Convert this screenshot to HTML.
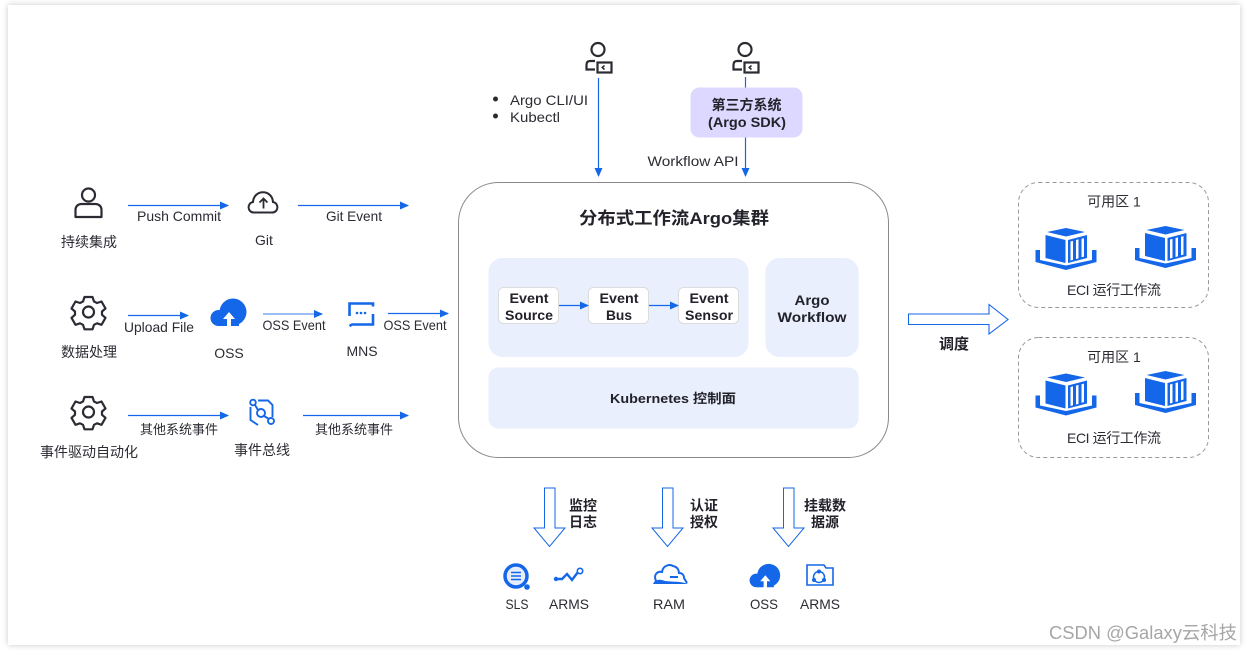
<!DOCTYPE html>
<html><head><meta charset="utf-8"><style>
html,body{margin:0;padding:0;background:#fff;width:1253px;height:652px;overflow:hidden}
#card{position:absolute;left:8px;top:5px;width:1232px;height:640px;background:#fff;box-shadow:0 0 6px rgba(0,0,0,.22)}
svg{display:block;position:absolute;left:0;top:0}
text{font-family:"Liberation Sans","Noto Sans CJK SC",sans-serif;font-size:14px;fill:#2b2b33;text-anchor:middle}
.b{font-weight:700;fill:#22222a}
.w{fill:#a6a6a6;font-size:18px}
</style></head><body>
<div id="card"></div>
<svg width="1253" height="652" viewBox="0 0 1253 652" xmlns="http://www.w3.org/2000/svg">
<defs>
<marker id="a" markerWidth="9" markerHeight="8" refX="8" refY="4" orient="auto" markerUnits="userSpaceOnUse"><path d="M0 0L9 4L0 8z" fill="#1467e8"/></marker>
<g id="gear"><path d="M-4-15h8l1.500 4.500 3 1.500 4.500-1.500 4 7-3.500 3v3.300l3.500 3-4 7-4.500-1.500-3 1.500-1.500 4.500h-8l-1.500-4.500-3-1.500-4.500 1.500-4-7 3.500-3v-3.300l-3.500-3 4-7 4.500 1.500 3-1.500z" fill="none" stroke="#2b2b33" stroke-width="2.200" stroke-linejoin="round"/><circle r="5.500" fill="none" stroke="#2b2b33" stroke-width="2.200"/></g>
<g id="user" fill="none" stroke="#2b2b33" stroke-width="2.200"><circle cx="0" cy="-6.500" r="6.500"/><path d="M-3 5H-8Q-11.500 5-11.500 9V13.500H-3"/><rect x="-0.500" y="6.500" width="14" height="10"/><path d="M6.500 9.500L4.200 11.500l2.300 2" stroke-width="1.500"/></g>
<g id="box"><path d="M-30.500 22H-26V32L0 37.500 26 32V22H30.500V34L0 42-30.500 34z" fill="#1467e8"/><path d="M-19 4L0 0 19 4 0 8.500z" fill="#1467e8"/><path d="M-20.500 7L-.5 12V35L-20.500 30z" fill="#1467e8"/><path d="M2 12L21 7V30L2 35z" fill="#1467e8"/><path d="M4.500 13.500l2.500-.6v19l-2.500.6zM10 12l2.500-.6v19l-2.500.6zM15.500 10.700l2.500-.6v18.500l-2.500.6z" fill="#fff"/></g>
<g id="oss"><circle cx="4" cy="-2" r="13.500" fill="#1467e8"/><circle cx="-10.500" cy="4" r="8" fill="#1467e8"/><path d="M-10 12H10V3H-10z" fill="#1467e8"/><path d="M-2 12.500V5h-4L0-2 6 5H2v7.500z" fill="#fff"/></g>
</defs>

<!-- top users -->
<use href="#user" x="598" y="56"/>
<use href="#user" x="745" y="56"/>
<g stroke="#1467e8" stroke-width="1.200" fill="none">
<path d="M598.500 78V176" marker-end="url(#a)"/>
<path d="M745.500 77V88"/>
<path d="M745.500 137V176" marker-end="url(#a)"/>
<path d="M128 205.500H228" marker-end="url(#a)"/>
<path d="M298 205.500H408" marker-end="url(#a)"/>
<path d="M128 315.500H188" marker-end="url(#a)"/>
<path d="M263 314H322" stroke="#7aa9f0" stroke-width="1.600" marker-end="url(#a)"/>
<path d="M388 313.500H448" marker-end="url(#a)"/>
<path d="M128 415.500H228" marker-end="url(#a)"/>
<path d="M303 415.500H408" marker-end="url(#a)"/>
</g>

<circle cx="495.500" cy="99" r="2.500" fill="#2b2b33"/>
<circle cx="495.500" cy="116" r="2.500" fill="#2b2b33"/>
<text x="549" y="105" textLength="78" lengthAdjust="spacingAndGlyphs">Argo CLI/UI</text>
<text x="535" y="122" textLength="50" lengthAdjust="spacingAndGlyphs">Kubectl</text>
<rect x="690.500" y="87.500" width="112" height="50" rx="9" fill="#dcd8ff"/>
<text class="b" x="746.500" y="110">第三方系统</text>
<text class="b" x="747" y="127" textLength="78" lengthAdjust="spacingAndGlyphs">(Argo SDK)</text>
<text x="693" y="166" textLength="91" lengthAdjust="spacingAndGlyphs">Workflow API</text>

<!-- cluster -->
<rect x="458.500" y="182.500" width="430" height="275" rx="40" fill="#fff" stroke="#8a8a8a" stroke-width="1"/>
<text class="b" x="674" y="224" style="font-size:17px" textLength="190" lengthAdjust="spacingAndGlyphs">分布式工作流Argo集群</text>
<rect x="488.500" y="258" width="260" height="99" rx="14" fill="#e9effd"/>
<rect x="765.500" y="258" width="93" height="99" rx="14" fill="#e9effd"/>
<rect x="488.500" y="367.500" width="370" height="61" rx="10" fill="#e9effd"/>
<g fill="#fff" stroke="#dcdcdc" stroke-width="1">
<rect x="498.500" y="287.500" width="60" height="36" rx="5"/>
<rect x="588.500" y="287.500" width="60" height="36" rx="5"/>
<rect x="678.500" y="287.500" width="60" height="36" rx="5"/>
</g>
<g stroke="#1467e8" stroke-width="1.200" fill="none">
<path d="M559 305.500H588" marker-end="url(#a)"/>
<path d="M649 305.500H678" marker-end="url(#a)"/>
</g>
<text class="b" x="529" y="303" textLength="39" lengthAdjust="spacingAndGlyphs">Event</text>
<text class="b" x="529" y="320" textLength="48" lengthAdjust="spacingAndGlyphs">Source</text>
<text class="b" x="619" y="303" textLength="39" lengthAdjust="spacingAndGlyphs">Event</text>
<text class="b" x="619" y="320" textLength="26" lengthAdjust="spacingAndGlyphs">Bus</text>
<text class="b" x="709" y="303" textLength="39" lengthAdjust="spacingAndGlyphs">Event</text>
<text class="b" x="709" y="320" textLength="48" lengthAdjust="spacingAndGlyphs">Sensor</text>
<text class="b" x="812" y="305" textLength="35" lengthAdjust="spacingAndGlyphs">Argo</text>
<text class="b" x="812" y="322" textLength="69" lengthAdjust="spacingAndGlyphs">Workflow</text>
<text class="b" x="673" y="403" style="font-size:13px" textLength="126" lengthAdjust="spacingAndGlyphs">Kubernetes 控制面</text>

<!-- left column -->
<g transform="translate(88.500,203)" fill="none" stroke="#2b2b33" stroke-width="2.200"><circle cy="-8" r="6.500"/><path d="M-13 14V7c0-4 3-6 6-6H7c3 0 6 2 6 6v7z" stroke-linejoin="round"/></g>
<text x="89" y="247">持续集成</text>
<path d="M255 212.500H254C247 212.500 247 203 253 202C254 189 272 189 273 202C279 203 279 212.500 272 212.500Z" fill="none" stroke="#2b2b33" stroke-width="2"/>
<path d="M263.500 208.500V198.500M259.500 202.500l4-4 4 4" fill="none" stroke="#2b2b33" stroke-width="1.800"/>
<text x="179" y="221" textLength="84" lengthAdjust="spacingAndGlyphs">Push Commit</text>
<text x="354" y="221" textLength="56" lengthAdjust="spacingAndGlyphs">Git Event</text>
<text x="264" y="245">Git</text>

<use href="#gear" x="88.500" y="312"/>
<text x="89" y="357">数据处理</text>
<text x="159" y="332" textLength="70" lengthAdjust="spacingAndGlyphs">Upload File</text>
<use href="#oss" x="229" y="314"/>
<text x="229" y="358">OSS</text>
<text x="294" y="330" textLength="63" lengthAdjust="spacingAndGlyphs">OSS Event</text>
<text x="415" y="330" textLength="63" lengthAdjust="spacingAndGlyphs">OSS Event</text>
<path d="M349.500 316V303.500H373V306.500" fill="none" stroke="#1467e8" stroke-width="2.600"/>
<path d="M373 314V324.500H352L349.500 326" fill="none" stroke="#1467e8" stroke-width="2.600"/>
<g fill="#1467e8"><circle cx="357" cy="313" r="1.300"/><circle cx="361" cy="313" r="1.300"/><circle cx="365" cy="313" r="1.300"/></g>
<text x="362" y="356">MNS</text>

<use href="#gear" x="88.500" y="412"/>
<text x="89" y="457">事件驱动自动化</text>
<text x="179" y="434" style="font-size:13px">其他系统事件</text>
<text x="354" y="434" style="font-size:13px">其他系统事件</text>
<g fill="none" stroke="#1467e8" stroke-width="1.900"><path d="M250.500 407V420L258 425M258 400.500H268L272.500 405V417"/><circle cx="253" cy="402.500" r="2.800"/><circle cx="271" cy="421" r="3"/><circle cx="261" cy="413" r="4"/><path d="M255 405l3 5M264 416l5 3"/></g>
<text x="262" y="455">事件总线</text>

<!-- big arrow -->
<path d="M908.500 314H989V304.500L1008 319.500 989 334V324.500H908.500z" fill="#fff" stroke="#1467e8" stroke-width="1.100"/>
<text class="b" x="954" y="349" style="font-size:15px">调度</text>

<!-- AZ -->
<rect x="1018.500" y="182.500" width="190" height="125" rx="20" fill="#fff" stroke="#999" stroke-dasharray="4 3"/>
<rect x="1018.500" y="337.500" width="190" height="120" rx="20" fill="#fff" stroke="#999" stroke-dasharray="4 3"/>
<text x="1114" y="206.500">可用区 1</text>
<text x="1114" y="295" textLength="94">ECI 运行工作流</text>
<text x="1114" y="362">可用区 1</text>
<text x="1114" y="443" textLength="94">ECI 运行工作流</text>
<use href="#box" x="1066" y="228"/>
<use href="#box" x="1165.500" y="226"/>
<use href="#box" x="1066" y="373.500"/>
<use href="#box" x="1165.500" y="371"/>

<!-- down arrows -->
<g fill="#fff" stroke="#1467e8" stroke-width="1">
<path d="M544.500 488H555V528H565L549.500 546.500 534 528H544.500z"/>
<path d="M662.500 488H673V528H683L667.500 546.500 652 528H662.500z"/>
<path d="M783.500 488H794V528H804L788.500 546.500 773 528H783.500z"/>
</g>
<text class="b" x="583" y="510.500">监控</text>
<text class="b" x="583" y="527">日志</text>
<text class="b" x="704" y="510.500">认证</text>
<text class="b" x="704" y="527">授权</text>
<text class="b" x="825" y="510.500">挂载数</text>
<text class="b" x="825" y="527">据源</text>

<!-- bottom icons -->
<circle cx="516" cy="576" r="11" fill="#e6eefd" stroke="#1467e8" stroke-width="3.500"/>
<path d="M511 572.500h10M511 576h10M511 579.500h10" stroke="#1467e8" stroke-width="1.500"/>
<circle cx="527" cy="587" r="2.800" fill="#1467e8"/>
<path d="M555 579h7l5-5 5 6 6-8" fill="none" stroke="#1467e8" stroke-width="2.400"/>
<circle cx="580" cy="571" r="2.700" fill="#fff" stroke="#1467e8" stroke-width="1.600"/>
<circle cx="556" cy="579" r="2.200" fill="#1467e8"/>
<path d="M656 581c-3-7 2-10 6-9 1-7 8-8 11-6 5 1 6 5 6 7 4 0 5 3 5 5l3 5" fill="#fff" stroke="#1467e8" stroke-width="2"/>
<path d="M653 584c2-5 8-5 12-3 8 1 15 0 23 3z" fill="#1467e8"/>
<path d="M670 577h8" stroke="#1467e8" stroke-width="2"/>
<g transform="translate(765.300,577) scale(.85)"><use href="#oss"/></g>
<path d="M807 575V565H824L826 568H833V585H807z" fill="none" stroke="#1467e8" stroke-width="1.600"/>
<circle cx="819" cy="577" r="5.500" fill="none" stroke="#1467e8" stroke-width="1.500"/>
<g fill="#1467e8"><circle cx="819" cy="571.500" r="2"/><circle cx="814" cy="580" r="2"/><circle cx="824" cy="580" r="2"/></g>
<text x="517" y="609" textLength="23" lengthAdjust="spacingAndGlyphs">SLS</text>
<text x="569" y="609" textLength="40" lengthAdjust="spacingAndGlyphs">ARMS</text>
<text x="669" y="609" textLength="32" lengthAdjust="spacingAndGlyphs">RAM</text>
<text x="764" y="609" textLength="28" lengthAdjust="spacingAndGlyphs">OSS</text>
<text x="820" y="609" textLength="40" lengthAdjust="spacingAndGlyphs">ARMS</text>

<text class="w" x="1143" y="639" textLength="188" lengthAdjust="spacingAndGlyphs">CSDN @Galaxy云科技</text>
</svg>
</body></html>
